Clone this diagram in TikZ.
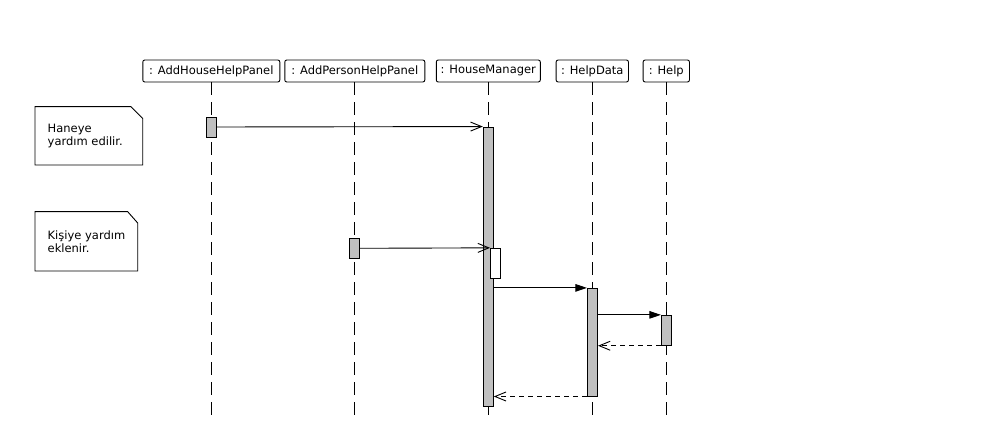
\documentclass[tikz,border=0pt]{standalone}
\usepackage{fontspec}
\setmainfont{DejaVu Sans}
\usetikzlibrary{arrows.meta}
\definecolor{actgray}{HTML}{C0C0C0}
\begin{document}
\begin{tikzpicture}[x=1pt,y=-1pt,
  every node/.style={font=\fontsize{11.5}{13}\selectfont},
  obj/.style={draw, rounded corners=2pt, minimum height=22pt, inner sep=0pt, line width=0.9pt},
  lifeline/.style={line width=0.9pt, dash pattern=on 13pt off 7pt},
  act/.style={draw, fill=actgray, minimum width=10.2pt, inner sep=0pt, line width=0.9pt},
  nested/.style={act, fill=white},
  call/.style={line width=0.9pt, -{Straight Barb[length=11pt,width=9pt]}},
  sync/.style={line width=0.9pt, -{Triangle[length=11.5pt,width=7.5pt]}},
  reply/.style={line width=0.9pt, dash pattern=on 5pt off 4pt, -{Straight Barb[length=11pt,width=9pt]}},
  notebox/.style={draw, fill=white, line width=0.9pt, line join=miter},
  notetext/.style={align=left, anchor=north west, inner sep=0pt}
]
\useasboundingbox (0,0) rectangle (1005,422);

% objects
\node[obj, minimum width=137pt] (o1) at (211.3,71) {: AddHouseHelpPanel};
\node[obj, minimum width=140pt] (o2) at (354.8,71) {: AddPersonHelpPanel};
\node[obj, minimum width=104pt] (o3) at (488.3,71) {: HouseManager};
\node[obj, minimum width=72.3pt] (o4) at (592.3,71) {: HelpData};
\node[obj, minimum width=46.3pt] (o5) at (666.3,71) {: Help};

\coordinate (bottom) at (0,417);

% lifelines
\draw[lifeline] (o1.south -| 211.3,0) -- (211.3,417);
\draw[lifeline] (o2.south -| 354.3,0) -- (354.3,417);
\draw[lifeline] (o3.south) -- (o3.south |- bottom);
\draw[lifeline] (o4.south) -- (o4.south |- bottom);
\draw[lifeline] (o5.south) -- (o5.south |- bottom);

% activations
\node[act, minimum height=20pt] (a1) at (211.3,127) {};
\node[act, minimum height=279pt] (hm) at (488.3,266.5) {};
\node[act, minimum height=20pt] (ap) at (354.3,248.3) {};
\node[nested, minimum height=30pt] (hm2) at (495.6,263.3) {};
\node[act, minimum height=107.7pt] (hd) at (592.5,342.2) {};
\node[act, minimum height=30pt] (hp) at (666.5,330.3) {};

% messages
\draw[call] (a1.east) -- (hm.north west);
\draw[call] (ap.east) -- (hm2.north west);
\draw[sync] (hm.east |- hd.north) -- (hd.north west);
\draw[sync] (hd.east |- hp.north) -- (hp.north west);
\draw[reply] (hp.south west) -- (hd.east |- hp.south);
\draw[reply] (hd.south west) -- (hm.east |- hd.south);

% notes
\draw[notebox] (35,106.7) -- (131,106.7) -- (142.7,118.4) -- (142.7,165) -- (35,165) -- cycle;
\node[notetext] (n1) at (47.5,124.3) {Haneye\\yardım edilir.};
\draw[notebox] (35,211.7) -- (127.7,211.7) -- (137.7,223) -- (137.7,271) -- (35,271) -- cycle;
\node[notetext] (n2) at (47.5,230.5) {Kişiye yardım\\eklenir.};
\end{tikzpicture}
\end{document}
